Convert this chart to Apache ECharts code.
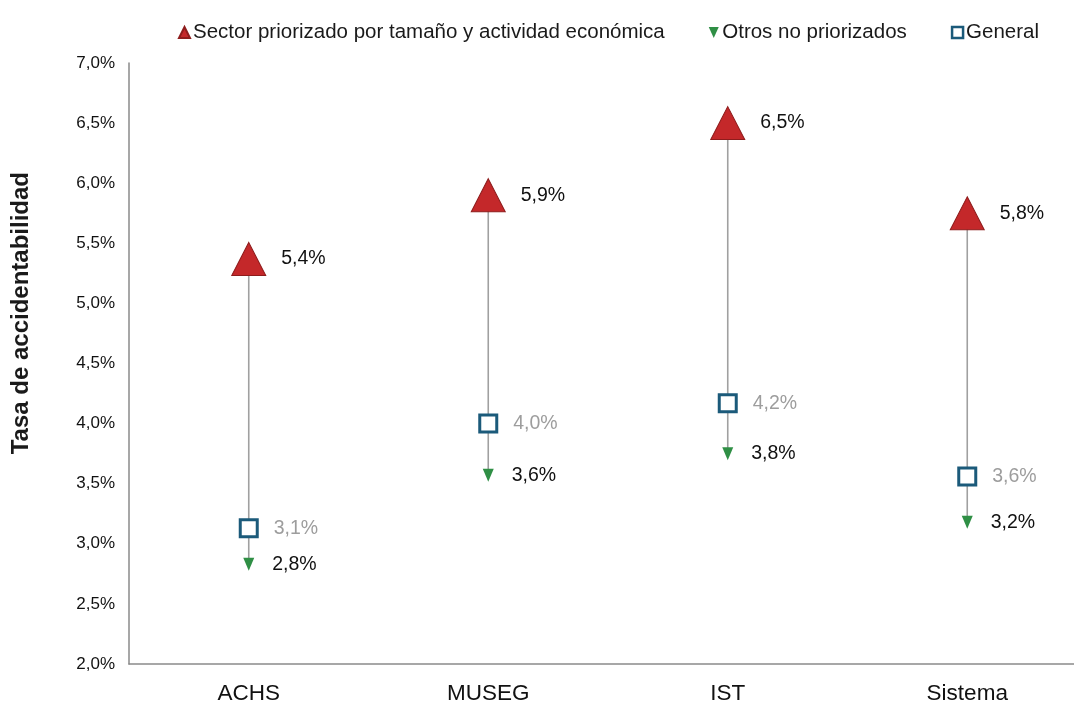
<!DOCTYPE html>
<html>
<head>
<meta charset="utf-8">
<script src="https://cdn.jsdelivr.net/npm/echarts@6/dist/echarts.min.js"></script>
<style>
html,body{margin:0;padding:0;background:#fff;}
#main{width:1074px;height:705px;}
</style>
</head>
<body>
<div id="main"></div>
<script>
const categories = ['ACHS', 'MUSEG', 'IST', 'Sistema'];
const sectorPriorizado = [5.37, 5.90, 6.50, 5.75];
const general = [3.13, 4.00, 4.17, 3.56];
const otrosNoPriorizados = [2.83, 3.57, 3.75, 3.18];
const yTicks = { min: 2, max: 7, interval: 0.5 };
const seriesNames = ['Sector priorizado por tamaño y actividad económica', 'Otros no priorizados', 'General'];
const yTitle = 'Tasa de accidentabilidad';

const FONT = "'Liberation Sans', Arial, sans-serif";
const fmt = v => v.toFixed(1).replace('.', ',') + '%';
const downTri = 'path://M0,0 L10,0 L5,11 Z';

const chart = echarts.init(document.getElementById('main'), null, { renderer: 'canvas' });
chart.setOption({
  backgroundColor: '#ffffff',
  animation: false,
  textStyle: { fontFamily: FONT },
  grid: { left: 129, top: 63, bottom: 41, right: -13, containLabel: false, outerBoundsMode: 'none' },
  legend: {
    left: 173, top: 17,
    itemWidth: 11, itemHeight: 11, itemGap: 44,
    textStyle: { fontFamily: FONT, fontSize: 20.5, color: '#1a1a1a', padding: [0, 0, 0, -2] },
    data: [
      { name: seriesNames[0], icon: 'triangle' },
      { name: seriesNames[1], icon: downTri },
      { name: seriesNames[2], icon: 'rect', itemStyle: { color: '#ffffff', borderColor: '#1b5a7a', borderWidth: 2.5 } }
    ]
  },
  xAxis: {
    type: 'category',
    data: categories,
    boundaryGap: true,
    axisLine: { lineStyle: { color: '#8a8a8a', width: 1.5 } },
    axisTick: { show: false },
    axisLabel: { fontFamily: FONT, fontSize: 22.5, color: '#111', margin: 18 },
    splitLine: { show: false }
  },
  yAxis: {
    type: 'value',
    min: yTicks.min, max: yTicks.max, interval: yTicks.interval,
    axisLine: { show: true, lineStyle: { color: '#8a8a8a', width: 1.5 } },
    axisTick: { show: false },
    splitLine: { show: false },
    axisLabel: { fontFamily: FONT, fontSize: 17, color: '#111', margin: 14, formatter: v => fmt(v) }
  },
  graphic: [{
    type: 'text',
    left: 9, top: 172,
    rotation: Math.PI / 2,
    style: { text: yTitle, font: "bold 24px 'Liberation Sans', Arial, sans-serif", fill: '#1a1a1a' }
  }],
  series: [
    {
      type: 'custom',
      name: 'connector',
      z: 1,
      silent: true,
      renderItem: function (params, api) {
        const i = api.value(0);
        const p1 = api.coord([i, api.value(1)]);
        const p2 = api.coord([i, api.value(2)]);
        return { type: 'line', shape: { x1: p1[0], y1: p1[1], x2: p2[0], y2: p2[1] },
                 style: { stroke: '#a0a0a0', lineWidth: 1.6 } };
      },
      encode: { x: 0, y: [1, 2] },
      data: categories.map((c, i) => [i, sectorPriorizado[i], otrosNoPriorizados[i]])
    },
    {
      type: 'scatter', name: seriesNames[1], z: 3,
      data: otrosNoPriorizados,
      symbol: downTri, symbolSize: [11, 13],
      itemStyle: { color: '#2f8f45', opacity: 1 },
      label: { show: true, position: 'right', distance: 18, formatter: p => fmt(p.value),
               fontFamily: FONT, fontSize: 19.5, color: '#111' }
    },
    {
      type: 'scatter', name: seriesNames[2], z: 4,
      data: general,
      symbol: 'rect', symbolSize: 17,
      itemStyle: { color: '#ffffff', borderColor: '#1b5a7a', borderWidth: 3, opacity: 1 },
      label: { show: true, position: 'right', distance: 15, formatter: p => fmt(p.value),
               fontFamily: FONT, fontSize: 19.5, color: '#9d9d9d' }
    },
    {
      type: 'scatter', name: seriesNames[0], z: 5,
      data: sectorPriorizado,
      symbol: 'triangle', symbolSize: [34, 33],
      itemStyle: { color: '#c4282a', borderColor: '#8e1c1c', borderWidth: 1, opacity: 1 },
      label: { show: true, position: 'right', distance: 15, formatter: p => fmt(p.value),
               fontFamily: FONT, fontSize: 19.5, color: '#111' }
    }
  ]
});
</script>
</body>
</html>
